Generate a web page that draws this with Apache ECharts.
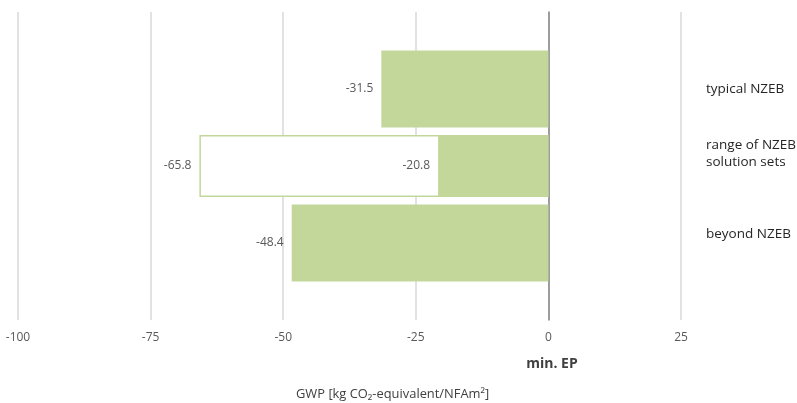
<!DOCTYPE html>
<html><head><meta charset="utf-8">
<script src="https://cdn.jsdelivr.net/npm/echarts@6/dist/echarts.min.js"></script>
<style>html,body{margin:0;padding:0;background:#fff}#c{width:797px;height:403px}</style>
</head><body><div id="c"></div>
<script>
const categories = ['typical NZEB', 'range of NZEB\nsolution sets', 'beyond NZEB'];
const singleValues = [-31.5, null, -48.4];
const rangeLow = [null, -65.8, null];
const rangeHigh = [null, -20.8, null];
const xTicks = [-100, -75, -50, -25, 0, 25];

const pad = a => [null, ...a, null];
const axisCats = ['', ...categories, ' '];
const green = '#c4d79b';
const lbl = {show: true, position: 'left', distance: 8, color: '#595959', fontSize: 12, fontFamily: 'Open Sans'};

const chart = echarts.init(document.getElementById('c'));
chart.setOption({
  animation: false,
  textStyle: {fontFamily: 'Open Sans'},
  grid: {left: 18, right: 116, top: 12, bottom: 83, outerBoundsMode: 'none', containLabel: false},
  xAxis: {
    type: 'value', min: xTicks[0], max: xTicks[xTicks.length - 1], interval: 25,
    axisLine: {show: false}, axisTick: {show: false},
    axisLabel: {color: '#595959', fontSize: 12, margin: 12},
    splitLine: {show: true, lineStyle: {color: '#d9d9d9', width: 1.5}}
  },
  yAxis: [{
    type: 'category', data: axisCats, inverse: true, boundaryGap: false,
    axisLine: {show: true, onZero: true, lineStyle: {color: '#868686', width: 1.5}},
    axisTick: {show: false}, axisLabel: {show: false}, splitLine: {show: false}
  }, {
    type: 'category', data: axisCats, inverse: true, boundaryGap: false, position: 'right',
    axisLine: {show: false, onZero: false}, axisTick: {show: false},
    axisLabel: {
      show: true, color: '#262626', fontSize: 13.5, margin: 25, align: 'left', lineHeight: 17,
      formatter: (v, i) => i === 2 ? v + '\n{g2| }' : (i === 3 ? v + '\n{g3| }' : v),
      rich: {g2: {lineHeight: 25, fontSize: 1}, g3: {lineHeight: 18, fontSize: 1}}
    },
    splitLine: {show: false}
  }],
  title: [
    {text: 'min. EP', left: 547, top: 352, textAlign: 'center',
     textStyle: {fontSize: 14, fontWeight: 'bold', color: '#404040', fontFamily: 'Open Sans'}},
    {text: 'GWP [kg CO₂-equivalent/NFAm²]', left: 291, top: 383,
     textStyle: {fontSize: 12.9, fontWeight: 'normal', color: '#404040', fontFamily: 'Open Sans'}}
  ],
  series: [
    {type: 'bar', yAxisIndex: 0, data: pad(singleValues), barWidth: 77,
     itemStyle: {color: green}, label: lbl},
    {type: 'bar', yAxisIndex: 1, data: pad(rangeLow), barWidth: 62, barGap: '-100%',
     itemStyle: {color: '#ffffff', borderColor: green, borderWidth: 1.5}, label: lbl},
    {type: 'bar', yAxisIndex: 1, data: pad(rangeHigh), barWidth: 62, barGap: '-100%',
     itemStyle: {color: green}, label: lbl}
  ]
});
</script></body></html>
